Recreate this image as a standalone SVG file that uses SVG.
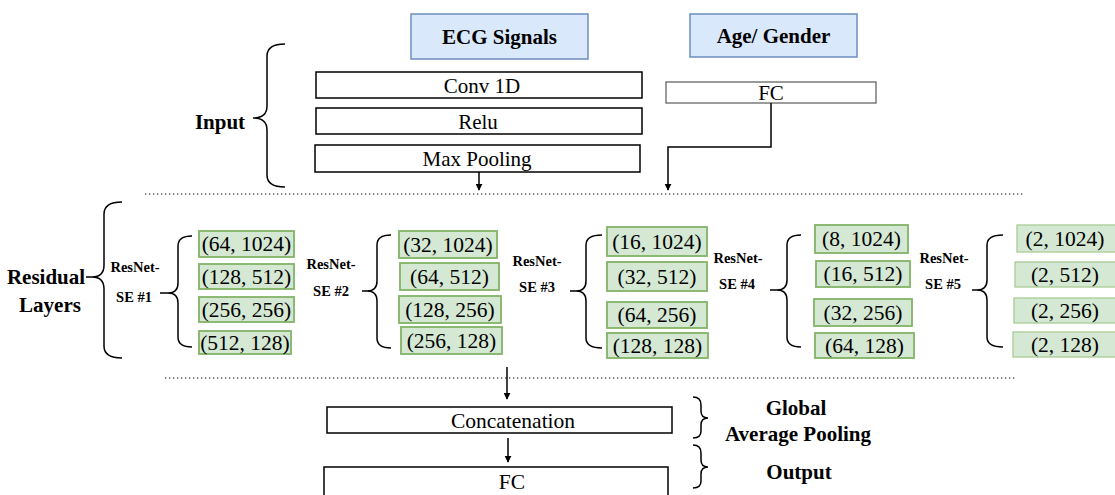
<svg xmlns="http://www.w3.org/2000/svg" width="1115" height="495" viewBox="0 0 1115 495">
<defs>
<style>
.blk{fill:#fff;stroke:#000;stroke-width:1.5}
.fcg{fill:#fff;stroke:#666;stroke-width:1.3}
.blue{fill:#dae8fc;stroke:#6c8ebf;stroke-width:1.5}
.grn{fill:#d5e8d4;stroke:#82b366;stroke-width:1.8}
.grn2{fill:#d5e8d4;stroke:#a9cc94;stroke-width:1.3}
text{font-family:'Liberation Serif','DejaVu Serif',serif;fill:#000;text-anchor:middle}
.t{font-size:21px}
.tg{font-size:21.5px}
.b{font-weight:bold;font-size:21px}
.s{font-weight:bold;font-size:14.5px}
.br{fill:none;stroke:#000;stroke-width:1.5}
.ln{fill:none;stroke:#000;stroke-width:1.5}
.dot{fill:none;stroke:#555;stroke-width:1.3;stroke-dasharray:1.3 2.7}
</style>
<marker id="ah" viewBox="0 0 10 10" refX="9" refY="5" markerWidth="7" markerHeight="7" markerUnits="userSpaceOnUse" orient="auto">
<path d="M0,0 L10,5 L0,10 z" fill="#000"/>
</marker>
</defs>
<rect width="1115" height="495" fill="#fff"/>

<g id="ecg"><rect class="blue" x="411" y="14" width="177" height="45"/><text class="b" x="499.5" y="44">ECG Signals</text></g>
<g id="agegender"><rect class="blue" x="690" y="14" width="167" height="43"/><text class="b" x="773.5" y="43">Age/ Gender</text></g>

<g id="conv"><rect class="blk" x="316" y="72" width="326" height="26"/><text class="t" x="482" y="93">Conv 1D</text></g>
<g id="relu"><rect class="blk" x="316" y="108" width="326" height="26"/><text class="t" x="478" y="129">Relu</text></g>
<g id="maxpool"><rect class="blk" x="315" y="145" width="325" height="27"/><text class="t" x="477" y="166">Max Pooling</text></g>
<g id="fc1"><rect class="fcg" x="666" y="82" width="210" height="21"/><text class="t" x="771" y="100">FC</text></g>

<g id="input-label"><text class="b" x="220" y="129">Input</text>
<path class="br" d="M285,44 Q267,44 267,56 L267,106 Q267,118 253,118 Q267,118 267,130 L267,175 Q267,187 285,187"/></g>

<g id="residual-label"><text class="b" x="46" y="284">Residual</text><text class="b" x="50" y="312">Layers</text>
<path class="br" d="M86,277 L92,277 Q104,277 104,265 L104,214 Q104,202 122,202 M92,277 Q104,277 104,289 L104,346 Q104,358 122,358"/></g>

<g id="se1">
<text class="s" x="135" y="272">ResNet-</text><text class="s" x="134" y="302">SE #1</text>
<path class="br" d="M160,293 L168,293 Q178,293 178,283 L178,246 Q178,236 192,236 M168,293 Q178,293 178,303 L178,337 Q178,347 192,347"/>
<rect class="grn" x="199" y="231" width="95" height="26"/><text class="tg" x="246.5" y="251">(64, 1024)</text>
<rect class="grn" x="199" y="264" width="95" height="25"/><text class="tg" x="246.5" y="284">(128, 512)</text>
<rect class="grn" x="199" y="297" width="95" height="25"/><text class="tg" x="246.5" y="317">(256, 256)</text>
<rect class="grn" x="199" y="331" width="92" height="23"/><text class="tg" x="245" y="350">(512, 128)</text>
</g>

<g id="se2">
<text class="s" x="331" y="269">ResNet-</text><text class="s" x="331" y="296">SE #2</text>
<path class="br" d="M362,291 L367,291 Q377,291 377,281 L377,245 Q377,235 391,235 M367,291 Q377,291 377,301 L377,338 Q377,348 391,348"/>
<rect class="grn" x="399" y="231" width="98" height="27"/><text class="tg" x="448" y="252">(32, 1024)</text>
<rect class="grn" x="400" y="263" width="99" height="27"/><text class="tg" x="449.5" y="284">(64, 512)</text>
<rect class="grn" x="399" y="296" width="102" height="27"/><text class="tg" x="450" y="317">(128, 256)</text>
<rect class="grn" x="401" y="327" width="101" height="27"/><text class="tg" x="451.5" y="348">(256, 128)</text>
</g>

<g id="se3">
<text class="s" x="537" y="266">ResNet-</text><text class="s" x="537" y="292">SE #3</text>
<path class="br" d="M570,291 L576,291 Q586,291 586,281 L586,245 Q586,235 602,235 M576,291 Q586,291 586,301 L586,338 Q586,348 602,348"/>
<rect class="grn" x="607" y="227" width="100" height="29"/><text class="tg" x="657" y="249">(16, 1024)</text>
<rect class="grn" x="607" y="262" width="100" height="29"/><text class="tg" x="657" y="284">(32, 512)</text>
<rect class="grn" x="607" y="302" width="100" height="26"/><text class="tg" x="657" y="322">(64, 256)</text>
<rect class="grn" x="607" y="333" width="101" height="25"/><text class="tg" x="657.5" y="353">(128, 128)</text>
</g>

<g id="se4">
<text class="s" x="738" y="263">ResNet-</text><text class="s" x="737" y="289">SE #4</text>
<path class="br" d="M770,290 L777,290 Q787,290 787,280 L787,245 Q787,235 801,235 M777,290 Q787,290 787,300 L787,337 Q787,347 801,347"/>
<rect class="grn" x="815" y="225" width="93" height="28"/><text class="tg" x="861.5" y="246">(8, 1024)</text>
<rect class="grn" x="816" y="261" width="94" height="26"/><text class="tg" x="863" y="281">(16, 512)</text>
<rect class="grn" x="814" y="299" width="98" height="27"/><text class="tg" x="863" y="320">(32, 256)</text>
<rect class="grn" x="815" y="333" width="99" height="25"/><text class="tg" x="864.5" y="353">(64, 128)</text>
</g>

<g id="se5">
<text class="s" x="944" y="263">ResNet-</text><text class="s" x="943" y="289">SE #5</text>
<path class="br" d="M972,290 L977,290 Q987,290 987,280 L987,245 Q987,235 1003,235 M977,290 Q987,290 987,300 L987,337 Q987,347 1003,347"/>
<rect class="grn2" x="1017" y="225" width="100" height="27"/><text class="tg" x="1065" y="246">(2, 1024)</text>
<rect class="grn2" x="1015" y="262" width="102" height="25"/><text class="tg" x="1065" y="282">(2, 512)</text>
<rect class="grn2" x="1014" y="298" width="103" height="25"/><text class="tg" x="1065" y="318">(2, 256)</text>
<rect class="grn2" x="1013" y="332" width="104" height="25"/><text class="tg" x="1065" y="352">(2, 128)</text>
</g>

<g id="concat"><rect class="blk" x="327" y="407" width="345" height="26"/><text class="tg" x="513" y="428">Concatenation</text></g>
<g id="fc2"><rect class="blk" x="324" y="467" width="344" height="32"/><text class="tg" x="512" y="489">FC</text></g>

<g id="gap-label">
<path class="br" d="M693,397 Q701,397 701,405 L701,411 Q701,418 708,418 Q701,418 701,425 L701,431 Q701,438 693,438"/>
<text class="b" x="796" y="415">Global</text><text class="b" x="798" y="441">Average Pooling</text>
</g>
<g id="output-label">
<path class="br" d="M693,445 Q701,445 701,453 L701,460 Q701,467 708,467 Q701,467 701,474 L701,481 Q701,488 693,488"/>
<text class="b" x="799" y="479">Output</text>
</g>

<g id="connectors">
<line class="dot" x1="145" y1="194" x2="1025" y2="194"/>
<line class="dot" x1="165" y1="378" x2="1015" y2="378"/>
<line class="ln" x1="479" y1="172" x2="479" y2="190" marker-end="url(#ah)"/>
<polyline class="ln" points="771,103 771,147 668,147 668,190" marker-end="url(#ah)"/>
<line class="ln" x1="507" y1="367" x2="507" y2="399" marker-end="url(#ah)"/>
<line class="ln" x1="508" y1="438" x2="508" y2="462" marker-end="url(#ah)"/>
</g>
</svg>
